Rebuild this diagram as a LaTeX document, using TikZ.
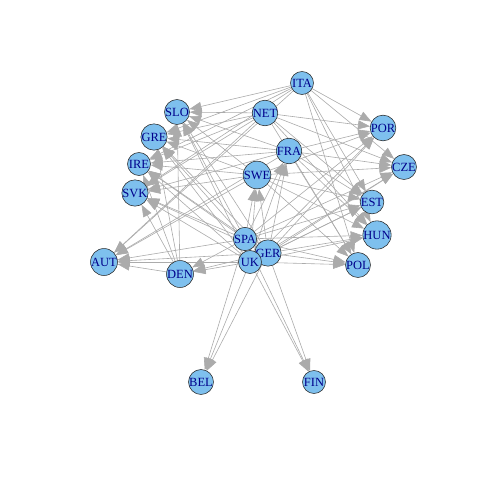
\documentclass[tikz,border=0pt]{standalone}
\usepackage{fontspec}
\setmainfont{Liberation Serif}
\usetikzlibrary{arrows.meta}
\definecolor{edgegray}{HTML}{ABABAB}
\definecolor{nodeblue}{HTML}{7EC0EE}
\definecolor{labblue}{HTML}{00008B}
\pgfdeclarelayer{bg}
\pgfsetlayers{bg,main}
\tikzset{
  vtx/.style={circle,draw=black!85,line width=0.55pt,fill=nodeblue,minimum size=23pt,inner sep=0pt,
    font=\fontsize{12.5}{12.5}\selectfont,text=labblue},
  edg/.style={draw=edgegray,line width=0.6pt,-{Triangle[length=12pt,width=9pt]}}
}
\begin{document}
\begin{tikzpicture}[x=1pt,y=-1pt]
\useasboundingbox (0,0) rectangle (480,480);
\foreach \n/\x/\y in {ITA/302/83,SLO/177/112,NET/265/113,POR/383/128,GRE/154/137,FRA/289/151,
  IRE/139/164,CZE/404/167,SWE/257/175,SVK/135/193,EST/372/202,SPA/245/239,HUN/377/235,
  GER/268/253,AUT/104/262,UK/250/262,DEN/180/274,POL/358/265,BEL/201/382,FIN/314/382}
  \node[vtx] (\n) at (\x,\y) {\n};
\begin{pgfonlayer}{bg}
\foreach \s in {ITA,NET,FRA,SWE,SPA,UK,GER}{
  \foreach \t in {SLO,GRE,IRE,SVK,AUT,POR,CZE,EST,HUN,POL}{
    \draw[edg] (\s) -- (\t);
  }
}
\foreach \t in {SLO,GRE,IRE,SVK,AUT}{
  \draw[edg] (DEN) -- (\t);
}
\foreach \s in {SPA,UK,GER}{
  \foreach \t in {SWE,FRA,DEN,BEL,FIN}{
    \draw[edg] (\s) -- (\t);
  }
}
\end{pgfonlayer}
\end{tikzpicture}
\end{document}
